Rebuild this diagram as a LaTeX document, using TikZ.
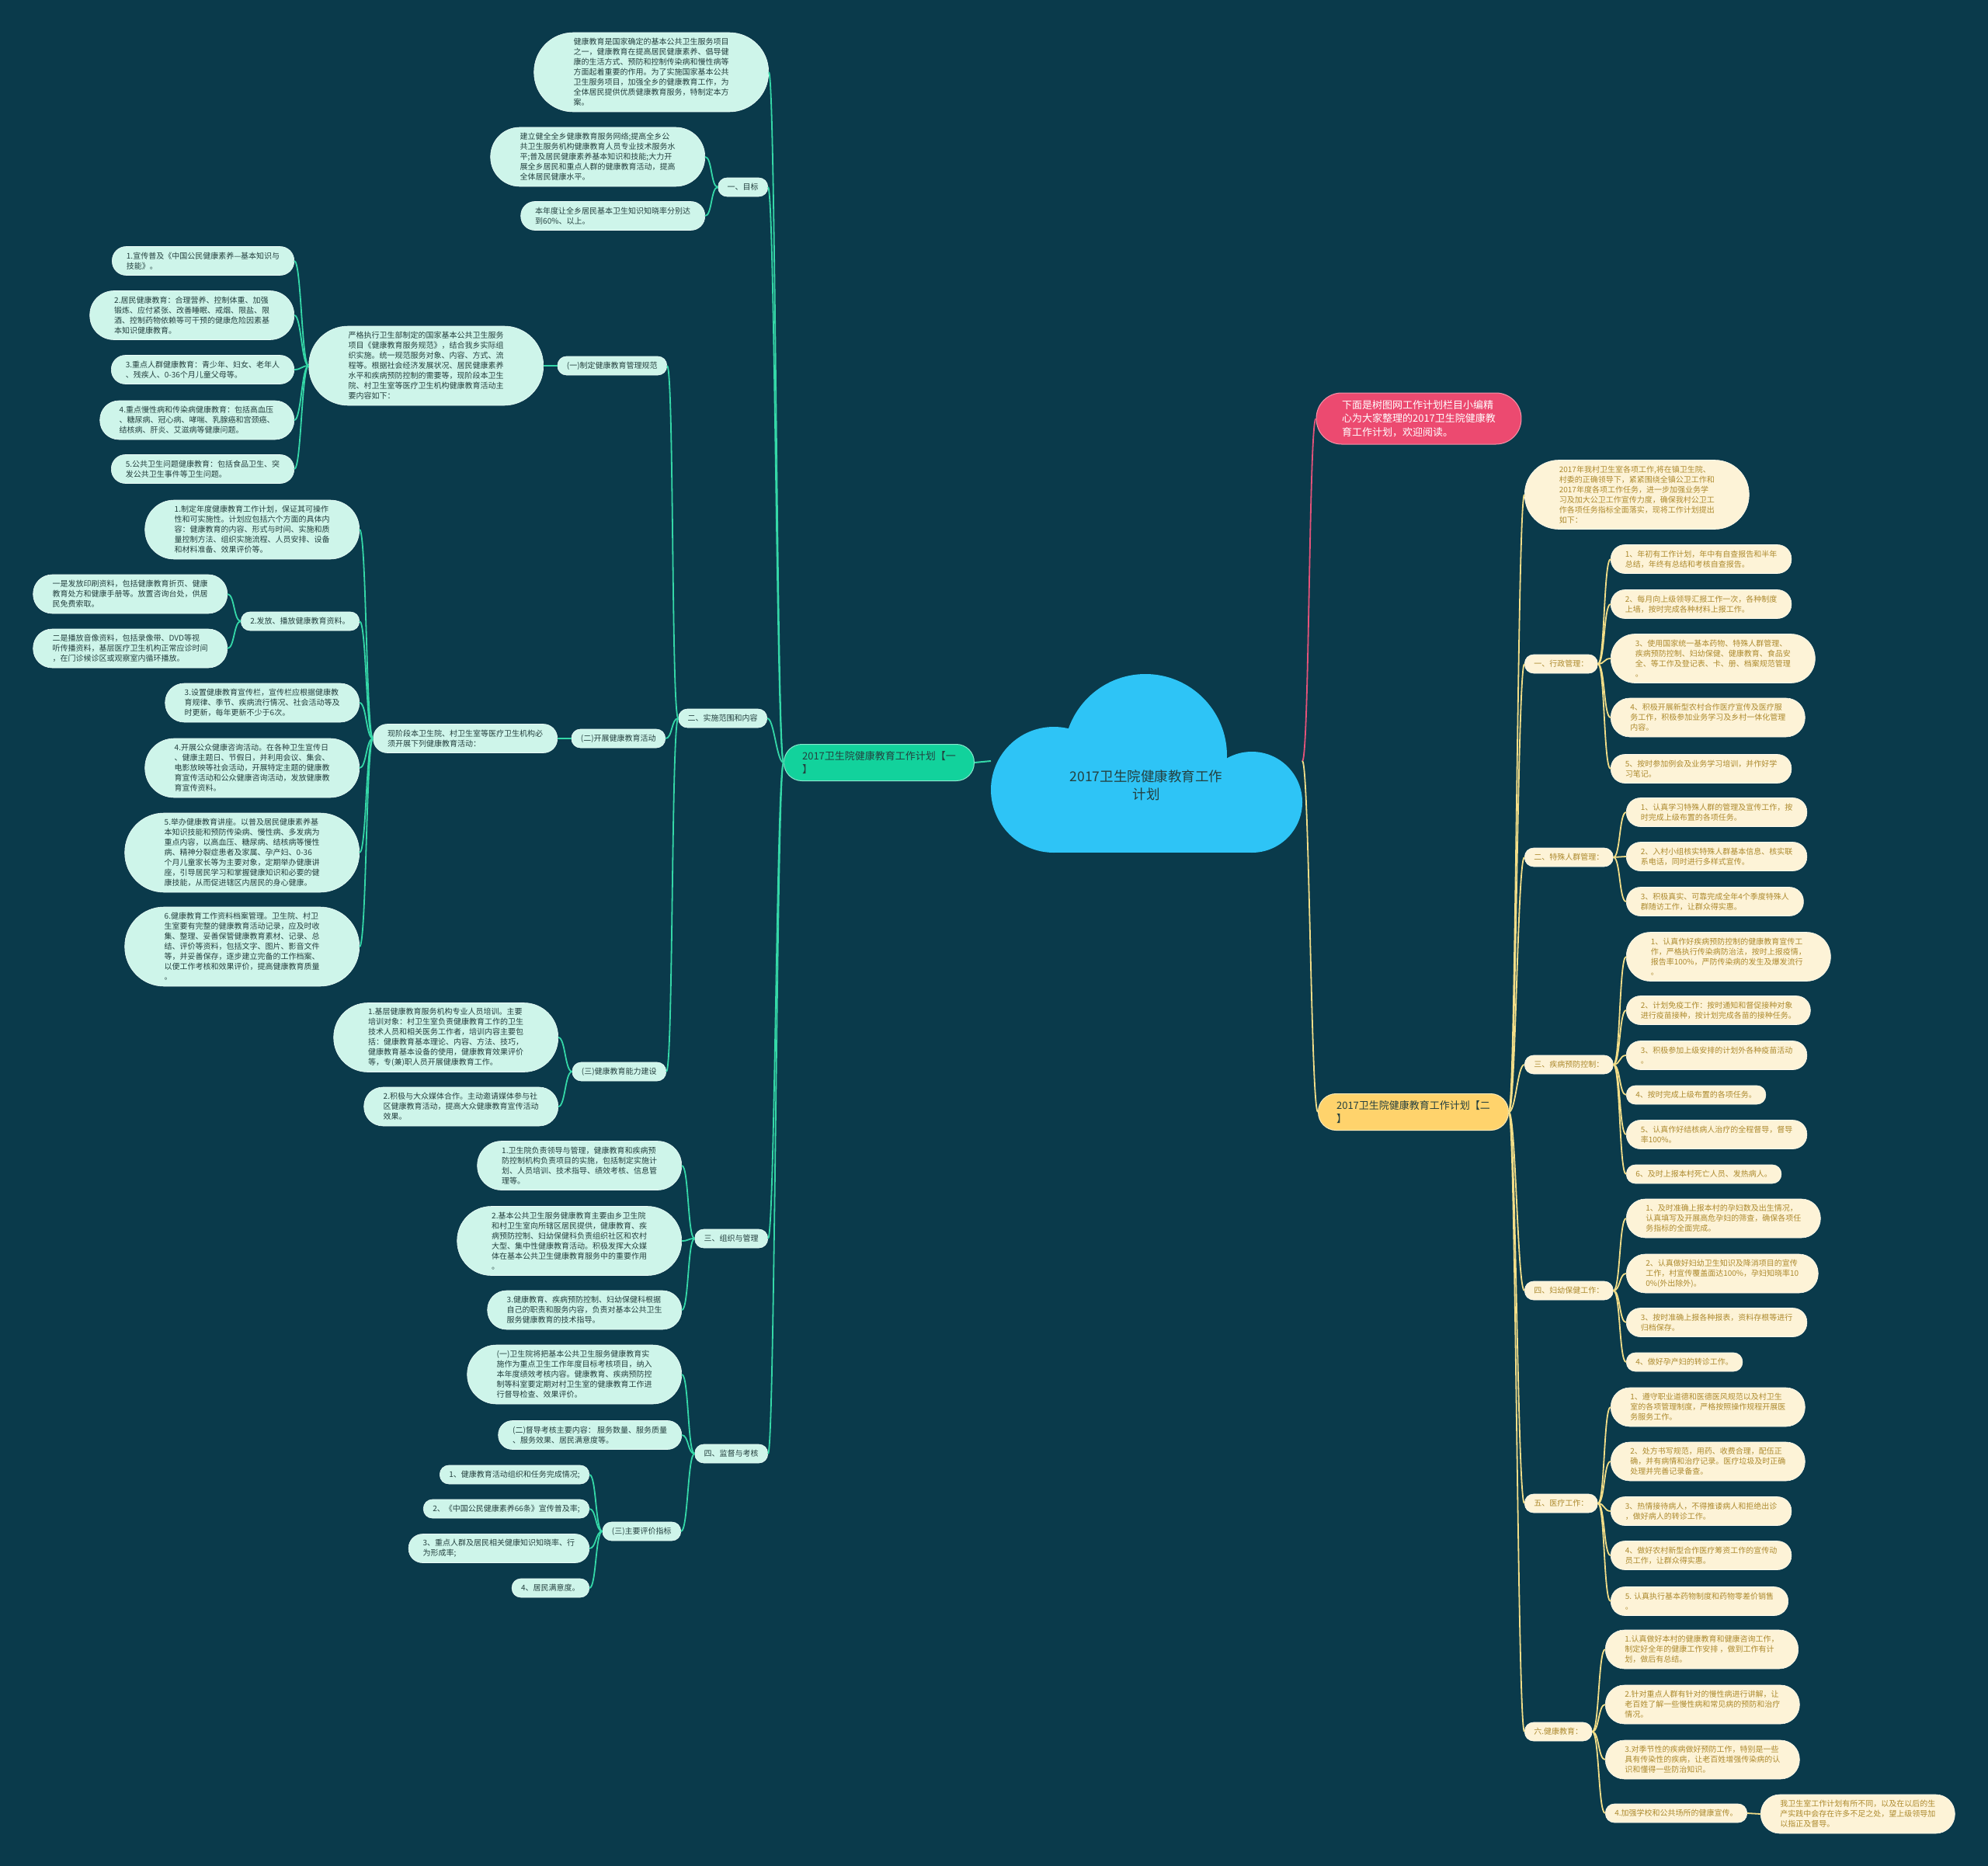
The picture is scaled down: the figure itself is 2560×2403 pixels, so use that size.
\documentclass[tikz,border=0pt]{standalone}
\usepackage{fontspec}
\setmainfont{Noto Sans CJK SC}
\usepackage{xcolor}
\usepackage{tikz}

\definecolor{bgnavy}{HTML}{0A3A4B}
\definecolor{mintfill}{HTML}{CEF5EA}
\definecolor{minttext}{HTML}{24403F}
\definecolor{mintline}{HTML}{35D8A8}
\definecolor{greenmain}{HTML}{12D29C}
\definecolor{creamfill}{HTML}{FDF3D7}
\definecolor{creamtext}{HTML}{AD8A2E}
\definecolor{goldline}{HTML}{F3DE88}
\definecolor{goldmain}{HTML}{FFD36C}
\definecolor{cloudblue}{HTML}{2EC4F6}
\definecolor{pinkmain}{HTML}{EC4A70}
\definecolor{pinkline}{HTML}{E5537A}

\begin{document}
\begin{tikzpicture}[x=1pt, y=-1pt,
    pill/.style={rectangle, rounded corners={6.5pt*#1+5pt}, minimum height={13pt*#1+11pt}, inner xsep={6.5pt*#1+5.5pt}, inner ysep=2pt, align=left, font=\fontsize{10}{13}\selectfont},
    leafL/.style={pill=#1, fill=mintfill, draw=white!60!mintfill, line width=0.6pt, text=minttext, anchor=east},
    leafR/.style={pill=#1, fill=creamfill, draw=white!60!creamfill, line width=0.6pt, text=creamtext, anchor=west},
    mainbox/.style={rectangle, rounded corners=23pt, minimum height=47pt, inner xsep=23.5pt, inner ysep=2pt, align=left, text=minttext, line width=1pt, font=\fontsize{13}{17.5}\selectfont},
    linkL/.style={draw=mintline, line width=1.8pt, to path={.. controls ([xshift=-9pt]\tikztostart) and ([xshift=9pt]\tikztotarget) .. (\tikztotarget)}},
    linkR/.style={draw=goldline, line width=1.8pt, to path={.. controls ([xshift=9pt]\tikztostart) and ([xshift=-9pt]\tikztotarget) .. (\tikztotarget)}},
]
    \fill[bgnavy] (0,0) rectangle (2560,2403);

    % Cloud
    \fill[cloudblue] (1357,1017) circle[radius=81];
    \fill[cloudblue] (1475,973) circle[radius=105];
    \fill[cloudblue] (1612,1033) circle[radius=65];
    \fill[cloudblue] (1357,1017) rectangle (1612,1098);
    \node[font=\fontsize{17.5}{23}\selectfont, text=minttext, align=center] (root) at (1476,1011) {2017卫生院健康教育工作\\计划};
    \coordinate (rootL) at (1276,980);
    \coordinate (rootR) at (1677,980);

    \node[mainbox, fill=greenmain, draw=white!50!greenmain] (plan1) at (1132,982) {2017卫生院健康教育工作计划【一\\】};
    \node[mainbox, fill=pinkmain, draw=white!40!pinkmain, text=white, rounded corners=32.5pt, minimum height=66pt, inner xsep=33pt] (notice) at (1827,539) {下面是树图网工作计划栏目小编精\\心为大家整理的2017卫生院健康教\\育工作计划，欢迎阅读。};
    \node[mainbox, fill=goldmain, draw=white!50!goldmain] (plan2) at (1820,1432) {2017卫生院健康教育工作计划【二\\】};

    % Left branch
    \node[leafL=7] (preface) at (990,93) {健康教育是国家确定的基本公共卫生服务项目\\之一，健康教育在提高居民健康素养、倡导健\\康的生活方式、预防和控制传染病和慢性病等\\方面起着重要的作用。为了实施国家基本公共\\卫生服务项目，加强全乡的健康教育工作，为\\全体居民提供优质健康教育服务，特制定本方\\案。};
    \node[leafL=1] (aim) at (989,241) {一、目标};
    \node[leafL=5] (aimA) at (908,202) {建立健全全乡健康教育服务网络;提高全乡公\\共卫生服务机构健康教育人员专业技术服务水\\平;普及居民健康素养基本知识和技能;大力开\\展全乡居民和重点人群的健康教育活动，提高\\全体居民健康水平。};
    \node[leafL=2] (aimB) at (908,278) {本年度让全乡居民基本卫生知识知晓率分别达\\到60\%、以上。};

    \node[leafL=1] (scope) at (988,925) {二、实施范围和内容};
    \node[leafL=1] (rule) at (859,471) {(一)制定健康教育管理规范};
    \node[leafL=7] (ruleText) at (700,471) {严格执行卫生部制定的国家基本公共卫生服务\\项目《健康教育服务规范》，结合我乡实际组\\织实施。统一规范服务对象、内容、方式、流\\程等。根据社会经济发展状况、居民健康素养\\水平和疾病预防控制的需要等，现阶段本卫生\\院、村卫生室等医疗卫生机构健康教育活动主\\要内容如下：};
    \node[leafL=2] (ruleA) at (379,336) {1.宣传普及《中国公民健康素养—基本知识与\\技能》。};
    \node[leafL=4] (ruleB) at (379,406) {2.居民健康教育：合理营养、控制体重、加强\\锻炼、应付紧张、改善睡眠、戒烟、限盐、限\\酒、控制药物依赖等可干预的健康危险因素基\\本知识健康教育。};
    \node[leafL=2] (ruleC) at (379,476) {3.重点人群健康教育：青少年、妇女、老年人\\、残疾人、0-36个月儿童父母等。};
    \node[leafL=3] (ruleD) at (379,541) {4.重点慢性病和传染病健康教育：包括高血压\\、糖尿病、冠心病、哮喘、乳腺癌和宫颈癌、\\结核病、肝炎、艾滋病等健康问题。};
    \node[leafL=2] (ruleE) at (379,604) {5.公共卫生问题健康教育：包括食品卫生、突\\发公共卫生事件等卫生问题。};

    \node[leafL=1] (act) at (857,951) {(二)开展健康教育活动};
    \node[leafL=2] (actText) at (718,951) {现阶段本卫生院、村卫生室等医疗卫生机构必\\须开展下列健康教育活动：};
    \node[leafL=5] (actA) at (463,682) {1.制定年度健康教育工作计划，保证其可操作\\性和可实施性。计划应包括六个方面的具体内\\容：健康教育的内容、形式与时间、实施和质\\量控制方法、组织实施流程、人员安排、设备\\和材料准备、效果评价等。};
    \node[leafL=1] (actB) at (463,800) {2.发放、播放健康教育资料。};
    \node[leafL=3] (actBa) at (293,765) {一是发放印刷资料，包括健康教育折页、健康\\教育处方和健康手册等。放置咨询台处，供居\\民免费索取。};
    \node[leafL=3] (actBb) at (293,835) {二是播放音像资料，包括录像带、DVD等视\\听传播资料，基层医疗卫生机构正常应诊时间\\，在门诊候诊区或观察室内循环播放。};
    \node[leafL=3] (actC) at (463,905) {3.设置健康教育宣传栏，宣传栏应根据健康教\\育规律、季节、疾病流行情况、社会活动等及\\时更新，每年更新不少于6次。};
    \node[leafL=5] (actD) at (463,989) {4.开展公众健康咨询活动。在各种卫生宣传日\\、健康主题日、节假日，并利用会议、集会、\\电影放映等社会活动，开展特定主题的健康教\\育宣传活动和公众健康咨询活动，发放健康教\\育宣传资料。};
    \node[leafL=7] (actE) at (463,1098) {5.举办健康教育讲座。以普及居民健康素养基\\本知识技能和预防传染病、慢性病、多发病为\\重点内容，以高血压、糖尿病、结核病等慢性\\病、精神分裂症患者及家属、孕产妇、0-36\\个月儿童家长等为主要对象，定期举办健康讲\\座，引导居民学习和掌握健康知识和必要的健\\康技能，从而促进辖区内居民的身心健康。};
    \node[leafL=7] (actF) at (463,1219) {6.健康教育工作资料档案管理。卫生院、村卫\\生室要有完整的健康教育活动记录，应及时收\\集、整理、妥善保管健康教育素材、记录、总\\结、评价等资料，包括文字、图片、影音文件\\等，并妥善保存，逐步建立完备的工作档案、\\以便工作考核和效果评价，提高健康教育质量\\。};

    \node[leafL=1] (cap) at (858,1380) {(三)健康教育能力建设};
    \node[leafL=6] (capA) at (719,1336) {1.基层健康教育服务机构专业人员培训。主要\\培训对象：村卫生室负责健康教育工作的卫生\\技术人员和相关医务工作者，培训内容主要包\\括：健康教育基本理论、内容、方法、技巧，\\健康教育基本设备的使用，健康教育效果评价\\等，专(兼)职人员开展健康教育工作。};
    \node[leafL=3] (capB) at (719,1425) {2.积极与大众媒体合作。主动邀请媒体参与社\\区健康教育活动，提高大众健康教育宣传活动\\效果。};

    \node[leafL=1] (org) at (989,1595) {三、组织与管理};
    \node[leafL=4] (orgA) at (878,1501) {1.卫生院负责领导与管理，健康教育和疾病预\\防控制机构负责项目的实施，包括制定实施计\\划、人员培训、技术指导、绩效考核、信息管\\理等。};
    \node[leafL=6] (orgB) at (878,1598) {2.基本公共卫生服务健康教育主要由乡卫生院\\和村卫生室向所辖区居民提供，健康教育、疾\\病预防控制、妇幼保健科负责组织社区和农村\\大型、集中性健康教育活动。积极发挥大众媒\\体在基本公共卫生健康教育服务中的重要作用\\。};
    \node[leafL=3] (orgC) at (878,1687) {3.健康教育、疾病预防控制、妇幼保健科根据\\自己的职责和服务内容，负责对基本公共卫生\\服务健康教育的技术指导。};

    \node[leafL=1] (check) at (989,1872) {四、监督与考核};
    \node[leafL=5] (checkA) at (878,1770) {(一)卫生院将把基本公共卫生服务健康教育实\\施作为重点卫生工作年度目标考核项目，纳入\\本年度绩效考核内容。健康教育、疾病预防控\\制等科室要定期对村卫生室的健康教育工作进\\行督导检查、效果评价。};
    \node[leafL=2] (checkB) at (878,1848) {(二)督导考核主要内容： 服务数量、服务质量\\、服务效果、居民满意度等。};
    \node[leafL=1] (index) at (877,1972) {(三)主要评价指标};
    \node[leafL=1] (indexA) at (759,1899) {1、健康教育活动组织和任务完成情况;};
    \node[leafL=1] (indexB) at (759,1943) {2、《中国公民健康素养66条》宣传普及率;};
    \node[leafL=2] (indexC) at (759,1994) {3、重点人群及居民相关健康知识知晓率、行\\为形成率;};
    \node[leafL=1] (indexD) at (759,2045) {4、居民满意度。};

    % Right branch
    \node[leafR=6] (village) at (1963,637) {2017年我村卫生室各项工作,将在镇卫生院、\\村委的正确领导下，紧紧围绕全镇公卫工作和\\2017年度各项工作任务，进一步加强业务学\\习及加大公卫工作宣传力度，确保我村公卫工\\作各项任务指标全面落实，现将工作计划提出\\如下：};

    \node[leafR=1] (admin) at (1963,855) {一、行政管理：};
    \node[leafR=2] (admin1) at (2074,720) {1、年初有工作计划，年中有自查报告和半年\\总结，年终有总结和考核自查报告。};
    \node[leafR=2] (admin2) at (2074,778) {2、每月向上级领导汇报工作一次，各种制度\\上墙，按时完成各种材料上报工作。};
    \node[leafR=4] (admin3) at (2074,848) {3、使用国家统一基本药物、特殊人群管理、\\疾病预防控制、妇幼保健、健康教育、食品安\\全、等工作及登记表、卡、册、档案规范管理\\。};
    \node[leafR=3] (admin4) at (2074,924) {4、积极开展新型农村合作医疗宣传及医疗服\\务工作，积极参加业务学习及乡村一体化管理\\内容。};
    \node[leafR=2] (admin5) at (2074,990) {5、按时参加例会及业务学习培训，并作好学\\习笔记。};

    \node[leafR=1] (special) at (1963,1104) {二、特殊人群管理：};
    \node[leafR=2] (special1) at (2094,1046) {1、认真学习特殊人群的管理及宣传工作，按\\时完成上级布置的各项任务。};
    \node[leafR=2] (special2) at (2094,1103) {2、入村小组核实特殊人群基本信息、核实联\\系电话，同时进行多样式宣传。};
    \node[leafR=2] (special3) at (2094,1161) {3、积极真实、可靠完成全年4个季度特殊人\\群随访工作，让群众得实惠。};

    \node[leafR=1] (disease) at (1963,1371) {三、疾病预防控制：};
    \node[leafR=4] (disease1) at (2094,1232) {1、认真作好疾病预防控制的健康教育宣传工\\作，严格执行传染病防治法，按时上报疫情，\\报告率100\%，严防传染病的发生及爆发流行\\。};
    \node[leafR=2] (disease2) at (2094,1301) {2、计划免疫工作：按时通知和督促接种对象\\进行疫苗接种，按计划完成各苗的接种任务。};
    \node[leafR=2] (disease3) at (2094,1359) {3、积极参加上级安排的计划外各种疫苗活动\\。};
    \node[leafR=1] (disease4) at (2094,1410) {4、按时完成上级布置的各项任务。};
    \node[leafR=2] (disease5) at (2094,1461) {5、认真作好结核病人治疗的全程督导，督导\\率100\%。};
    \node[leafR=1] (disease6) at (2094,1512) {6、及时上报本村死亡人员、发热病人。};

    \node[leafR=1] (women) at (1963,1662) {四、妇幼保健工作：};
    \node[leafR=3] (women1) at (2094,1569) {1、及时准确上报本村的孕妇数及出生情况，\\认真填写及开展高危孕妇的筛查，确保各项任\\务指标的全面完成。};
    \node[leafR=3] (women2) at (2094,1640) {2、认真做好妇幼卫生知识及降消项目的宣传\\工作，村宣传覆盖面达100\%，孕妇知晓率10\\0\%(外出除外)。};
    \node[leafR=2] (women3) at (2094,1703) {3、按时准确上报各种报表，资料存根等进行\\归档保存。};
    \node[leafR=1] (women4) at (2094,1754) {4、做好孕产妇的转诊工作。};

    \node[leafR=1] (medical) at (1963,1936) {五、医疗工作：};
    \node[leafR=3] (medical1) at (2074,1812) {1、遵守职业道德和医德医风规范以及村卫生\\室的各项管理制度，严格按照操作规程开展医\\务服务工作。};
    \node[leafR=3] (medical2) at (2074,1882) {2、处方书写规范，用药、收费合理，配伍正\\确，并有病情和治疗记录。医疗垃圾及时正确\\处理并完善记录备查。};
    \node[leafR=2] (medical3) at (2074,1946) {3、热情接待病人，不得推诿病人和拒绝出诊\\，做好病人的转诊工作。};
    \node[leafR=2] (medical4) at (2074,2003) {4、做好农村新型合作医疗筹资工作的宣传动\\员工作，让群众得实惠。};
    \node[leafR=2] (medical5) at (2074,2062) {5. 认真执行基本药物制度和药物零差价销售\\。};

    \node[leafR=1] (edu) at (1963,2230) {六.健康教育：};
    \node[leafR=3] (edu1) at (2067,2124) {1.认真做好本村的健康教育和健康咨询工作，\\制定好全年的健康工作安排 ，做到工作有计\\划，做后有总结。};
    \node[leafR=3] (edu2) at (2067,2195) {2.针对重点人群有针对的慢性病进行讲解，让\\老百姓了解一些慢性病和常见病的预防和治疗\\情况。};
    \node[leafR=3] (edu3) at (2067,2266) {3.对季节性的疾病做好预防工作，特别是一些\\具有传染性的疾病，让老百姓增强传染病的认\\识和懂得一些防治知识。};
    \node[leafR=1] (edu4) at (2067,2335) {4.加强学校和公共场所的健康宣传。};
    \node[leafR=3] (closing) at (2267,2336) {我卫生室工作计划有所不同，以及在以后的生\\产实践中会存在许多不足之处，望上级领导加\\以指正及督导。};

    % Connectors from the cloud
    \draw[mintline, line width=2pt] (plan1.east) -- (rootL);
    \draw[linkR, draw=pinkline] (rootR) to (notice.west);
    \draw[linkR] (rootR) to (plan2.west);

    % Left connectors
    \draw[linkL] (plan1.west) to (preface.east);
    \draw[linkL] (plan1.west) to (aim.east);
    \draw[linkL] (plan1.west) to (scope.east);
    \draw[linkL] (plan1.west) to (org.east);
    \draw[linkL] (plan1.west) to (check.east);
    \draw[linkL] (aim.west) to (aimA.east);
    \draw[linkL] (aim.west) to (aimB.east);
    \draw[linkL] (scope.west) to (rule.east);
    \draw[linkL] (scope.west) to (act.east);
    \draw[linkL] (scope.west) to (cap.east);
    \draw[linkL] (rule.west) to (ruleText.east);
    \draw[linkL] (ruleText.west) to (ruleA.east);
    \draw[linkL] (ruleText.west) to (ruleB.east);
    \draw[linkL] (ruleText.west) to (ruleC.east);
    \draw[linkL] (ruleText.west) to (ruleD.east);
    \draw[linkL] (ruleText.west) to (ruleE.east);
    \draw[linkL] (act.west) to (actText.east);
    \draw[linkL] (actText.west) to (actA.east);
    \draw[linkL] (actText.west) to (actB.east);
    \draw[linkL] (actText.west) to (actC.east);
    \draw[linkL] (actText.west) to (actD.east);
    \draw[linkL] (actText.west) to (actE.east);
    \draw[linkL] (actText.west) to (actF.east);
    \draw[linkL] (actB.west) to (actBa.east);
    \draw[linkL] (actB.west) to (actBb.east);
    \draw[linkL] (cap.west) to (capA.east);
    \draw[linkL] (cap.west) to (capB.east);
    \draw[linkL] (org.west) to (orgA.east);
    \draw[linkL] (org.west) to (orgB.east);
    \draw[linkL] (org.west) to (orgC.east);
    \draw[linkL] (check.west) to (checkA.east);
    \draw[linkL] (check.west) to (checkB.east);
    \draw[linkL] (check.west) to (index.east);
    \draw[linkL] (index.west) to (indexA.east);
    \draw[linkL] (index.west) to (indexB.east);
    \draw[linkL] (index.west) to (indexC.east);
    \draw[linkL] (index.west) to (indexD.east);

    % Right connectors
    \draw[linkR] (plan2.east) to (village.west);
    \draw[linkR] (plan2.east) to (admin.west);
    \draw[linkR] (plan2.east) to (special.west);
    \draw[linkR] (plan2.east) to (disease.west);
    \draw[linkR] (plan2.east) to (women.west);
    \draw[linkR] (plan2.east) to (medical.west);
    \draw[linkR] (plan2.east) to (edu.west);
    \draw[linkR] (admin.east) to (admin1.west);
    \draw[linkR] (admin.east) to (admin2.west);
    \draw[linkR] (admin.east) to (admin3.west);
    \draw[linkR] (admin.east) to (admin4.west);
    \draw[linkR] (admin.east) to (admin5.west);
    \draw[linkR] (special.east) to (special1.west);
    \draw[linkR] (special.east) to (special2.west);
    \draw[linkR] (special.east) to (special3.west);
    \draw[linkR] (disease.east) to (disease1.west);
    \draw[linkR] (disease.east) to (disease2.west);
    \draw[linkR] (disease.east) to (disease3.west);
    \draw[linkR] (disease.east) to (disease4.west);
    \draw[linkR] (disease.east) to (disease5.west);
    \draw[linkR] (disease.east) to (disease6.west);
    \draw[linkR] (women.east) to (women1.west);
    \draw[linkR] (women.east) to (women2.west);
    \draw[linkR] (women.east) to (women3.west);
    \draw[linkR] (women.east) to (women4.west);
    \draw[linkR] (medical.east) to (medical1.west);
    \draw[linkR] (medical.east) to (medical2.west);
    \draw[linkR] (medical.east) to (medical3.west);
    \draw[linkR] (medical.east) to (medical4.west);
    \draw[linkR] (medical.east) to (medical5.west);
    \draw[linkR] (edu.east) to (edu1.west);
    \draw[linkR] (edu.east) to (edu2.west);
    \draw[linkR] (edu.east) to (edu3.west);
    \draw[linkR] (edu.east) to (edu4.west);
    \draw[linkR] (edu4.east) to (closing.west);
\end{tikzpicture}
\end{document}
